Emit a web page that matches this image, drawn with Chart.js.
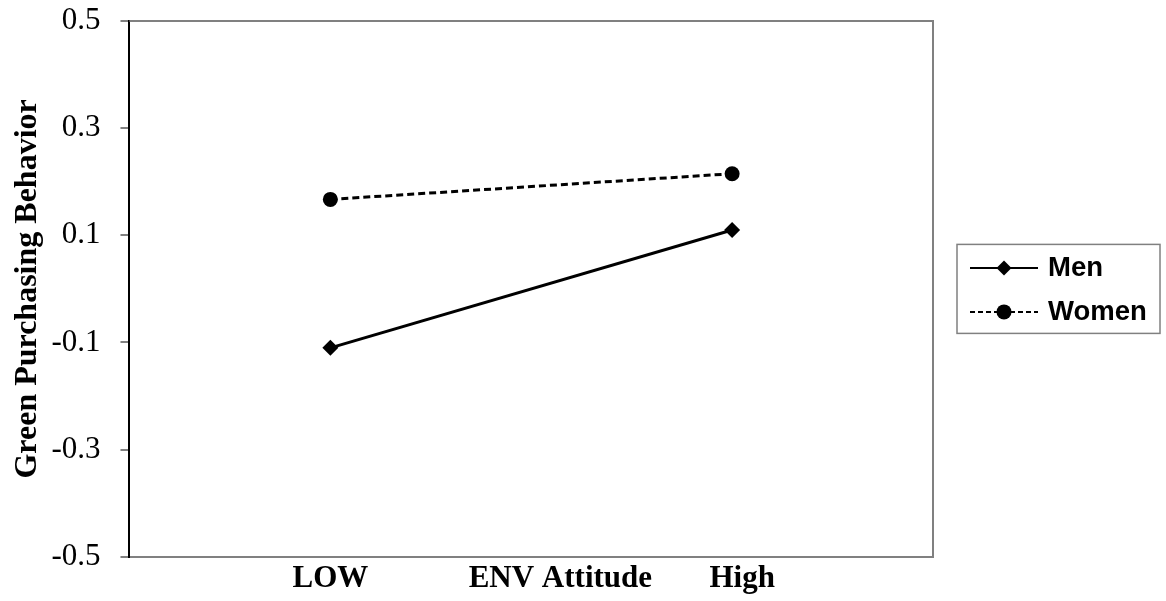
<!DOCTYPE html>
<html>
<head>
<meta charset="utf-8">
<script src="https://cdn.jsdelivr.net/npm/chart.js@4.4.1/dist/chart.umd.min.js"></script>
<style>
  html, body { margin: 0; padding: 0; background: #ffffff; }
  #wrap { width: 1166px; height: 601px; position: relative; }
</style>
</head>
<body>
<div id="wrap"><canvas id="c"></canvas></div>
<script>
// ---- data ----
const seriesNames = ["Men", "Women"];
const xPointValues = [1, 3];                 // LOW, High
const menValues = [-0.11, 0.11];
const womenValues = [0.167, 0.215];
const xTickValues = [1, 2.145, 3.05];
const xTickLabels = ["LOW", "ENV Attitude", "High"];
const yTickValues = [-0.5, -0.3, -0.1, 0.1, 0.3, 0.5];
const yTitle = "Green Purchasing Behavior";

const toPoints = (vals) => vals.map((v, i) => ({ x: xPointValues[i], y: v }));

const frameAndLegend = {
  id: 'frameAndLegend',
  beforeDatasetsDraw(chart) {
    const { ctx, chartArea: a } = chart;
    ctx.save();
    ctx.strokeStyle = '#808080';
    ctx.lineWidth = 2;
    ctx.beginPath();
    ctx.moveTo(a.left, a.top); ctx.lineTo(a.right, a.top);
    ctx.lineTo(a.right, a.bottom);
    ctx.stroke();
    ctx.restore();
  },
  afterDraw(chart) {
    const { ctx, chartArea: a } = chart;
    const boxW = 203, boxH = 89;
    const left = a.right + 24;
    const cy = (a.top + a.bottom) / 2;
    const top = cy - boxH / 2;
    ctx.save();
    ctx.strokeStyle = '#808080';
    ctx.lineWidth = 1.5;
    ctx.strokeRect(left, top, boxW, boxH);
    const rows = [cy - 21, cy + 23];
    chart.data.datasets.forEach((ds, i) => {
      const y = rows[i];
      ctx.strokeStyle = '#000';
      ctx.fillStyle = '#000';
      ctx.lineWidth = 2;
      ctx.setLineDash(ds.borderDash ? [5, 3] : []);
      ctx.beginPath();
      ctx.moveTo(left + 13, y); ctx.lineTo(left + 81, y);
      ctx.stroke();
      ctx.setLineDash([]);
      const mx = left + 47;
      ctx.beginPath();
      if (ds.pointStyle === 'rectRot') {
        const r = 7.5;
        ctx.moveTo(mx, y - r); ctx.lineTo(mx + r, y); ctx.lineTo(mx, y + r); ctx.lineTo(mx - r, y);
        ctx.closePath();
      } else {
        ctx.arc(mx, y, 7.5, 0, Math.PI * 2);
      }
      ctx.fill();
      ctx.font = 'bold 27.5px "Liberation Sans", Arial, sans-serif';
      ctx.textBaseline = 'middle';
      ctx.textAlign = 'left';
      ctx.fillText(ds.label, left + 91, y + 1);
    });
    ctx.restore();
  }
};

new Chart(document.getElementById('c'), {
  type: 'scatter',
  data: {
    datasets: [
      {
        label: seriesNames[0],
        data: toPoints(menValues),
        showLine: true,
        borderColor: '#000',
        backgroundColor: '#000',
        borderWidth: 3,
        pointStyle: 'rectRot',
        pointRadius: 8,
        pointHoverRadius: 8,
        pointBorderWidth: 0
      },
      {
        label: seriesNames[1],
        data: toPoints(womenValues),
        showLine: true,
        borderColor: '#000',
        backgroundColor: '#000',
        borderWidth: 3,
        borderDash: [7, 4],
        pointStyle: 'circle',
        pointRadius: 7.5,
        pointHoverRadius: 7.5,
        pointBorderWidth: 0
      }
    ]
  },
  options: {
    responsive: true,
    maintainAspectRatio: false,
    animation: false,
    layout: { padding: { left: 9, right: 233, top: 21, bottom: -1 } },
    plugins: { legend: { display: false }, tooltip: { enabled: false } },
    scales: {
      x: {
        type: 'linear',
        min: 0,
        max: 4,
        afterBuildTicks: (s) => { s.ticks = xTickValues.map(v => ({ value: v })); },
        ticks: {
          autoSkip: false,
          maxRotation: 0,
          padding: 4,
          color: '#000',
          font: { family: '"Liberation Serif", "Times New Roman", serif', size: 31, weight: 'bold' },
          callback: (v, i) => xTickLabels[i]
        },
        grid: { drawOnChartArea: false, drawTicks: false },
        border: { color: '#808080', width: 2 }
      },
      y: {
        min: -0.5,
        max: 0.5,
        afterBuildTicks: (s) => { s.ticks = yTickValues.map(v => ({ value: v })); },
        ticks: {
          padding: 0,
          color: '#000',
          font: { family: '"Liberation Serif", "Times New Roman", serif', size: 31 },
          callback: (v) => Number(v).toFixed(1)
        },
        grid: {
          drawOnChartArea: false, drawTicks: true, tickLength: 29,
          tickBorderDash: [0, 20, 9, 0], tickColor: '#808080', tickWidth: 2,
          color: '#808080', lineWidth: 2
        },
        border: { color: '#000', width: 2 },
        title: {
          display: true,
          text: yTitle,
          color: '#000',
          padding: { top: 0, bottom: 4 },
          font: { family: '"Liberation Serif", "Times New Roman", serif', size: 32, weight: 'bold' }
        }
      }
    }
  },
  plugins: [frameAndLegend]
});
</script>
</body>
</html>
